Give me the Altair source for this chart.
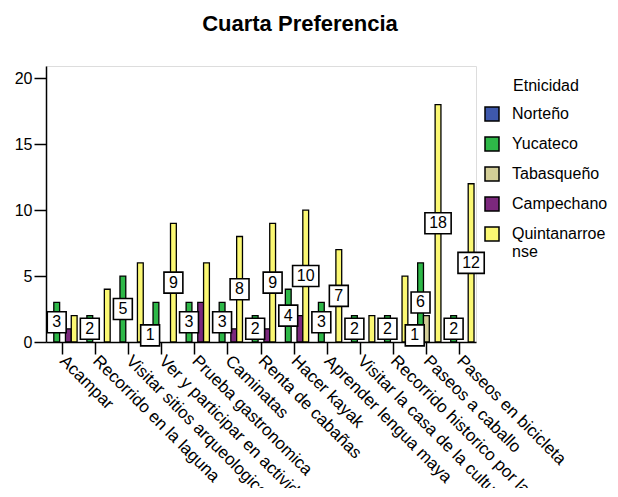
import altair as alt
import pandas as pd

FONT = "Liberation Sans"

categories = [
    "Acampar",
    "Recorrido en la laguna",
    "Visitar sitios arqueologicos",
    "Ver y participar en actividades",
    "Prueba gastronomica",
    "Caminatas",
    "Renta de cabañas",
    "Hacer kayak",
    "Aprender lengua maya",
    "Visitar la casa de la cultura",
    "Recorrido historico por la ciudad",
    "Paseos a caballo",
    "Paseos en bicicleta",
]
series = ["Norteño", "Yucateco", "Tabasqueño", "Campechano", "Quintanarroense"]
colors = ["#3E58AC", "#2EB848", "#D3CE97", "#7C287D", "#FBF873"]

norteno = [0, 0, 0, 1, 0, 0, 0, 0, 0, 0, 0, 1, 0]
yucateco = [3, 2, 5, 3, 3, 3, 2, 4, 3, 2, 2, 6, 2]
tabasqueno = [0, 0, 0, 0, 0, 0, 0, 0, 0, 0, 0, 2, 0]
campechano = [1, 0, 0, 0, 3, 1, 1, 2, 0, 0, 0, 0, 0]
quintanarroense = [2, 4, 6, 9, 6, 8, 9, 10, 7, 2, 5, 18, 12]

# which bars carry a value label in the reference
lab_norteno = [0, 0, 0, 1, 0, 0, 0, 0, 0, 0, 0, 1, 0]
lab_yucateco = [1, 1, 1, 0, 1, 1, 1, 1, 1, 1, 1, 1, 1]
lab_tabasqueno = [0] * 13
lab_campechano = [0] * 13
lab_quintanarroense = [0, 0, 0, 1, 0, 1, 1, 1, 1, 0, 0, 1, 1]

values = [norteno, yucateco, tabasqueno, campechano, quintanarroense]
flags = [lab_norteno, lab_yucateco, lab_tabasqueno, lab_campechano, lab_quintanarroense]

rows = []
for s, vals, fl in zip(series, values, flags):
    for c, v, f in zip(categories, vals, fl):
        rows.append({"cat": c, "serie": s, "valor": v, "mid": v / 2,
                     "etiqueta": bool(f), "digitos": len(str(v))})
df = pd.DataFrame(rows)

box1 = "M-0.9,-1H0.9V1H-0.9Z"
box2 = "M-1.25,-1H1.25V1H-1.25Z"

x = alt.X("cat:N", sort=categories,
          scale=alt.Scale(domain=categories, paddingInner=0.12, paddingOuter=0.06),
          axis=alt.Axis(title=None, labelAngle=45, labelAlign="left", labelBaseline="middle",
                        labelFontSize=17, labelFont=FONT, labelColor="black", labelLimit=0,
                        labelPadding=4, tickSize=12, tickWidth=1.5, tickColor="black",
                        domainWidth=1.5, domainColor="black"))
xo = alt.XOffset("serie:N", sort=series,
                 scale=alt.Scale(domain=series, paddingInner=0, paddingOuter=0))
yscale = alt.Scale(domain=[0, 20.93], nice=False, zero=True)

base = alt.Chart(df)

bars = base.transform_filter("datum.valor > 0").mark_bar(
    stroke="black", strokeWidth=1.3, opacity=1
).encode(
    x=x,
    xOffset=xo,
    y=alt.Y("valor:Q", scale=yscale,
            axis=alt.Axis(title=None, values=[0, 5, 10, 15, 20], grid=False,
                          labelFontSize=16, labelFont=FONT, labelColor="black",
                          labelPadding=2, tickSize=12, tickWidth=1.5, tickColor="black",
                          domainWidth=1.5, domainColor="black")),
    color=alt.Color("serie:N", sort=series,
                    scale=alt.Scale(domain=series, range=colors),
                    legend=alt.Legend(
                        title="Etnicidad", orient="none", legendX=438, legendY=12,
                        symbolType="square", symbolSize=196, symbolStrokeColor="black",
                        symbolStrokeWidth=1.5, symbolOpacity=1,
                        labelFontSize=16, labelFont=FONT, labelColor="black",
                        titleFontSize=16, titleFont=FONT, titleFontWeight="normal",
                        titleColor="black", titleAnchor="middle", titlePadding=12,
                        labelOffset=12, rowPadding=10, padding=0, labelLimit=0,
                        labelExpr="datum.label == 'Quintanarroense' ? ['Quintanarroe', 'nse'] : datum.label",
                    )),
)

lab = base.transform_filter("datum.etiqueta")

boxes = lab.mark_point(filled=True, fill="white", stroke="black", strokeWidth=1.6,
                       opacity=1, fillOpacity=1).encode(
    x=x,
    xOffset=xo,
    y=alt.Y("mid:Q", scale=yscale),
    shape=alt.Shape("digitos:O", scale=alt.Scale(domain=[1, 2], range=[box1, box2]), legend=None),
    size=alt.value(441),
)

texts = lab.mark_text(fontSize=16, font=FONT, color="black").encode(
    x=x,
    xOffset=xo,
    y=alt.Y("mid:Q", scale=yscale),
    text="valor:Q",
)

chart = alt.layer(bars, boxes, texts).properties(
    width=430,
    height=276,
    title=alt.TitleParams("Cuarta Preferencia", fontSize=22, fontWeight="bold", font=FONT,
                          color="black", anchor="middle", dx=39, offset=30),
    autosize=alt.AutoSizeParams(type="none"),
    padding={"left": 38, "top": 58, "right": 134, "bottom": 146},
).configure_view(stroke="black", strokeWidth=1).configure(background="white")

chart.save("out.html", embed_options={"renderer": "svg", "actions": False})
